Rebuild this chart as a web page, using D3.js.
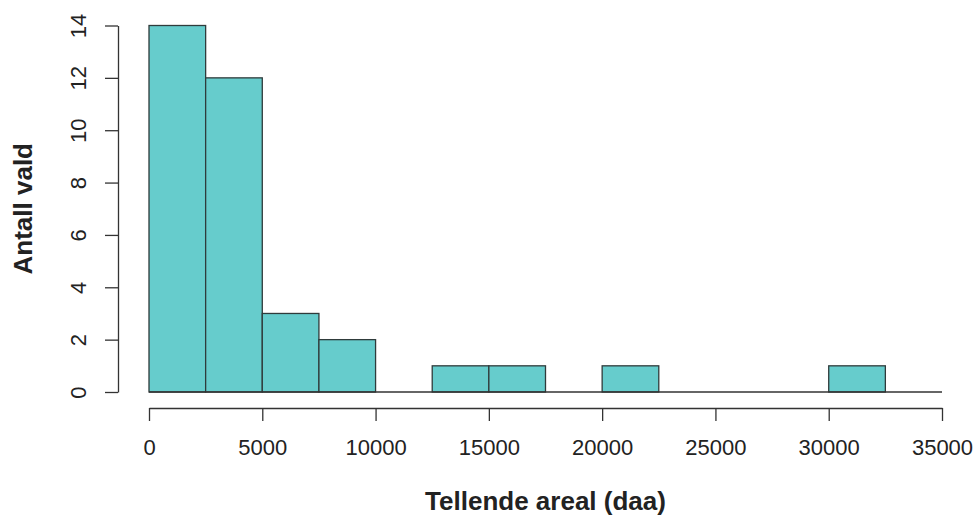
<!DOCTYPE html>
<html>
<head>
<meta charset="utf-8">
<script src="https://cdn.jsdelivr.net/npm/d3@7"></script>
<style>
  html, body { margin: 0; padding: 0; background: #fff; }
  svg { display: block; }
  text { font-family: Arial, "Liberation Sans", sans-serif; fill: #222; }
</style>
</head>
<body>
<script>
// Histogram bins (daa) and counts
const binStarts = [0, 2500, 5000, 7500, 10000, 12500, 15000, 17500, 20000, 22500, 25000, 27500, 30000];
const binWidth = 2500;
const counts = [14, 12, 3, 2, 0, 1, 1, 0, 1, 0, 0, 0, 1];
const xTicks = [0, 5000, 10000, 15000, 20000, 25000, 30000, 35000];
const yTicks = [0, 2, 4, 6, 8, 10, 12, 14];
const xTitle = "Tellende areal (daa)";
const yTitle = "Antall vald";

const W = 974, H = 515;
const svg = d3.select("body").append("svg").attr("width", W).attr("height", H);

const x = d3.scaleLinear().domain([0, 35000]).range([149, 942]);
const y = d3.scaleLinear().domain([0, 14]).range([392, 25.5]);

const axisColor = "#333";

// bars
svg.append("g").selectAll("rect")
  .data(binStarts.map((s, i) => ({ s, c: counts[i] })).filter(d => d.c > 0))
  .join("rect")
  .attr("x", d => x(d.s))
  .attr("y", d => y(d.c))
  .attr("width", d => x(d.s + binWidth) - x(d.s))
  .attr("height", d => y(0) - y(d.c))
  .attr("fill", "#66CCCC")
  .attr("stroke", "#2f3b3b")
  .attr("stroke-width", 1.3);

// zero baseline across the range
svg.append("line")
  .attr("x1", x(0)).attr("x2", x(35000))
  .attr("y1", y(0)).attr("y2", y(0))
  .attr("stroke", axisColor).attr("stroke-width", 1.3);

// x axis
const gx = svg.append("g").attr("transform", "translate(0,408)")
  .call(d3.axisBottom(x).tickValues(xTicks).tickSize(13).tickSizeOuter(0).tickPadding(18).tickFormat(d3.format("d")));
gx.select(".domain").attr("stroke", axisColor).attr("stroke-width", 1.3);
gx.selectAll(".tick line").attr("stroke", axisColor).attr("stroke-width", 1.3);
gx.selectAll(".tick text").attr("font-size", 22).attr("font-family", "Arial, 'Liberation Sans', sans-serif").attr("fill", "#222");

// y axis
const gy = svg.append("g").attr("transform", "translate(118,0)")
  .call(d3.axisLeft(y).tickValues(yTicks).tickSize(13).tickSizeOuter(0).tickFormat(d3.format("d")));
gy.select(".domain").attr("stroke", axisColor).attr("stroke-width", 1.3);
gy.selectAll(".tick line").attr("stroke", axisColor).attr("stroke-width", 1.3);
gy.selectAll(".tick text")
  .attr("font-size", 22)
  .attr("font-family", "Arial, 'Liberation Sans', sans-serif")
  .attr("fill", "#222")
  .attr("x", null).attr("dy", null)
  .attr("text-anchor", "middle")
  .attr("transform", "translate(-32,0) rotate(-90)");

// axis titles
svg.append("text")
  .attr("x", (x(0) + x(35000)) / 2)
  .attr("y", 510)
  .attr("text-anchor", "middle")
  .attr("font-size", 26)
  .attr("font-weight", "bold")
  .text(xTitle);

svg.append("text")
  .attr("transform", `translate(32,${(y(0) + y(14)) / 2}) rotate(-90)`)
  .attr("text-anchor", "middle")
  .attr("font-size", 26)
  .attr("font-weight", "bold")
  .text(yTitle);
</script>
</body>
</html>
